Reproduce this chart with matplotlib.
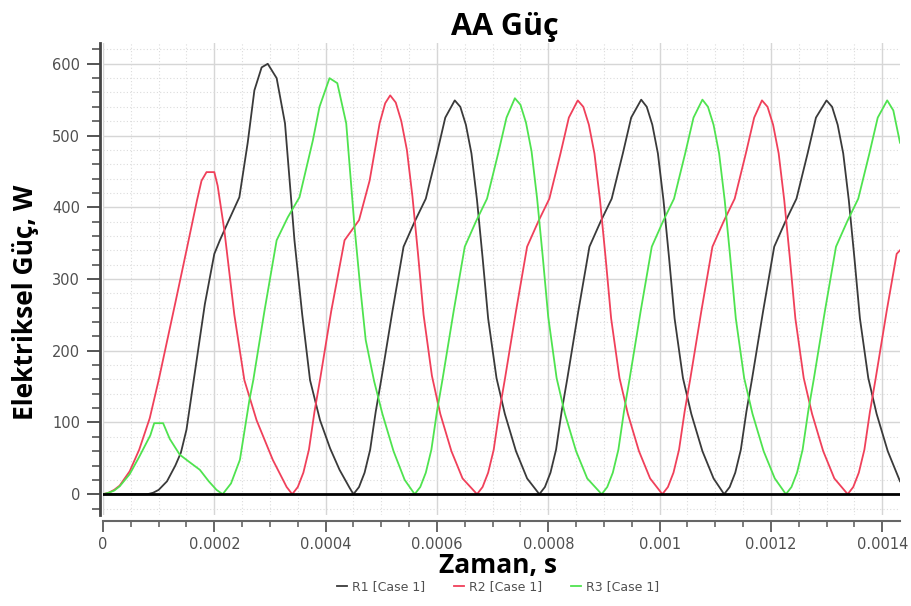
import matplotlib
matplotlib.use('Agg')
import matplotlib.pyplot as plt
from matplotlib.ticker import MultipleLocator, FuncFormatter

# sample times in microseconds, electrical power in W
r1_t = [0, 80, 90, 100, 115, 130, 140, 150, 163, 183, 200, 210, 225, 245, 260, 272, 285, 296,
        312, 327, 344, 358, 372, 390, 408, 425, 443, 450,
        460, 470, 480, 490, 500, 520, 540, 560, 580, 600, 615, 632,
        642, 652, 662, 672, 682, 692, 707, 722, 742, 762, 784,
        794, 804, 814, 824, 834, 854, 874, 894, 914, 934, 949, 967,
        977, 987, 997, 1007, 1017, 1027, 1042, 1057, 1077, 1097, 1116,
        1126, 1136, 1146, 1156, 1166, 1186, 1206, 1226, 1246, 1266, 1281, 1300,
        1310, 1320, 1330, 1340, 1350, 1360, 1375, 1390, 1410, 1432]
r1_p = [0, 0, 2, 6, 18, 40, 58, 90, 159, 265, 335, 354, 380, 414, 490, 563, 595, 600,
        580, 517, 354, 250, 159, 103, 64, 34, 9, 0,
        10, 30, 62, 115, 160, 255, 345, 380, 412, 475, 525, 549,
        540, 515, 475, 410, 330, 245, 162, 112, 60, 22, 0,
        10, 30, 62, 115, 160, 255, 345, 380, 412, 475, 525, 550,
        540, 515, 475, 410, 330, 245, 162, 112, 60, 22, 0,
        10, 30, 62, 115, 160, 255, 345, 380, 412, 475, 525, 549,
        540, 515, 475, 410, 330, 245, 162, 112, 60, 18]

r2_t = [0, 10, 20, 30, 48, 65, 84, 100, 130, 150, 169, 177, 186, 200, 206, 218, 236, 254, 276, 305, 330, 340,
        350, 360, 370, 380, 390, 410, 434, 460, 479, 497, 507, 516,
        526, 536, 546, 556, 566, 576, 591, 606, 626, 646, 672,
        682, 692, 702, 712, 722, 742, 762, 782, 802, 822, 837, 853,
        863, 873, 883, 893, 903, 913, 928, 943, 963, 983, 1005,
        1015, 1025, 1035, 1045, 1055, 1075, 1095, 1115, 1135, 1155, 1170, 1184,
        1194, 1204, 1214, 1224, 1234, 1244, 1259, 1274, 1294, 1314, 1338,
        1348, 1358, 1368, 1378, 1388, 1408, 1426, 1432]
r2_p = [0, 2, 6, 12, 32, 62, 106, 159, 267, 340, 410, 437, 449, 449, 430, 368, 250, 159, 103, 48, 10, 0,
        10, 30, 62, 115, 160, 255, 354, 382, 437, 517, 545, 556,
        546, 520, 480, 415, 335, 250, 165, 112, 60, 22, 0,
        10, 30, 62, 115, 160, 255, 345, 380, 412, 475, 525, 549,
        540, 515, 475, 410, 330, 245, 162, 112, 60, 22, 0,
        10, 30, 62, 115, 160, 255, 345, 380, 412, 475, 525, 549,
        540, 515, 475, 410, 330, 245, 162, 112, 60, 22, 0,
        10, 30, 62, 115, 160, 255, 335, 340]

r3_t = [0, 10, 20, 30, 48, 65, 85, 92, 108, 120, 138, 155, 174, 190, 204, 215,
        230, 246, 263, 270, 290, 312, 332, 353, 377, 389, 407,
        421, 437, 452, 462, 472, 487, 502, 522, 542, 560,
        570, 580, 590, 600, 610, 630, 650, 670, 690, 710, 725, 740,
        750, 760, 770, 780, 790, 800, 815, 830, 850, 870, 896,
        906, 916, 926, 936, 946, 966, 986, 1006, 1026, 1046, 1061, 1077,
        1087, 1097, 1107, 1117, 1127, 1137, 1152, 1167, 1187, 1207, 1227,
        1237, 1247, 1257, 1267, 1277, 1297, 1317, 1337, 1357, 1377, 1392, 1409,
        1420, 1432]
r3_p = [0, 2, 5, 11, 28, 52, 82, 99, 99, 77, 55, 45, 34, 18, 6, 0,
        15, 48, 131, 159, 255, 354, 386, 414, 493, 540, 580,
        573, 517, 372, 290, 215, 158, 112, 60, 20, 0,
        10, 30, 62, 115, 160, 255, 345, 380, 412, 475, 525, 552,
        543, 518, 478, 412, 332, 247, 162, 112, 60, 22, 0,
        10, 30, 62, 115, 160, 255, 345, 380, 412, 475, 525, 550,
        540, 515, 475, 410, 330, 245, 162, 112, 60, 22, 0,
        10, 30, 62, 115, 160, 255, 345, 380, 412, 475, 525, 549,
        535, 490]

series = [
    ('R1 [Case 1]', r1_t, r1_p, '#3a3a3a'),
    ('R2 [Case 1]', r2_t, r2_p, '#f0405a'),
    ('R3 [Case 1]', r3_t, r3_p, '#4fe34f'),
]

fig = plt.figure(figsize=(9.12, 6.06), dpi=100)
ax = fig.add_axes([103 / 912, 1 - 515 / 606, 797 / 912, 472 / 606])

handles = []
for name, t, p, col in series:
    ln, = ax.plot([v * 1e-6 for v in t], p, color=col, lw=1.3, label=name, zorder=3)
    handles.append(ln)

ax.axhline(0, color='black', lw=2, zorder=4)

ax.set_xlim(0, 0.001432)
ax.set_ylim(-29, 629)

ax.xaxis.set_major_locator(MultipleLocator(0.0002))
ax.xaxis.set_minor_locator(MultipleLocator(0.00005))
ax.yaxis.set_major_locator(MultipleLocator(100))
ax.yaxis.set_minor_locator(MultipleLocator(20))
ax.xaxis.set_major_formatter(FuncFormatter(lambda v, pos: '{:g}'.format(round(v, 5))))
ax.yaxis.set_major_formatter(FuncFormatter(lambda v, pos: '{:g}'.format(round(v))))

ax.set_axisbelow(True)
ax.grid(which='major', color='#d6d6d6', lw=1.0)
ax.grid(which='minor', color='#dcdcdc', lw=0.8, ls=(0, (1, 2)))

for side in ('top', 'right'):
    ax.spines[side].set_visible(False)
ax.spines['left'].set_position(('outward', 2))
ax.spines['left'].set_color('#444444')
ax.spines['left'].set_linewidth(2)
ax.spines['bottom'].set_position(('outward', 4))
ax.spines['bottom'].set_color('#666666')
ax.spines['bottom'].set_linewidth(1.5)

ax.tick_params(axis='y', which='major', direction='out', length=9.4, width=1.4,
               color='#555555', labelcolor='#505050', labelsize=10.5, pad=5)
ax.tick_params(axis='y', which='minor', direction='out', length=5.8, width=1.2, color='#555555')
ax.tick_params(axis='x', which='major', direction='out', length=8, width=1.4,
               color='#666666', labelcolor='#505050', labelsize=10.5, pad=4)
ax.tick_params(axis='x', which='minor', direction='out', length=4.5, width=1.2, color='#666666')

fig.text(505 / 912, 1 - 27 / 606, 'AA Güç', ha='center', va='center',
         fontsize=22, fontweight='bold', family='Open Sans')
fig.text(26 / 912, 1 - 302 / 606, 'Elektriksel Güç, W', ha='center', va='center',
         rotation=90, fontsize=19, fontweight='bold', family='Open Sans')
fig.text(498 / 912, 1 - 566 / 606, 'Zaman, s', ha='center', va='center',
         fontsize=19, fontweight='bold', family='Open Sans')

leg = fig.legend(handles=handles, loc='center', bbox_to_anchor=(498 / 912, 1 - 587 / 606),
                 ncol=3, frameon=False, fontsize=9, handlelength=0.8, handletextpad=0.4,
                 columnspacing=2.3, labelcolor='#505050')

fig.savefig('out.png', dpi=100)
